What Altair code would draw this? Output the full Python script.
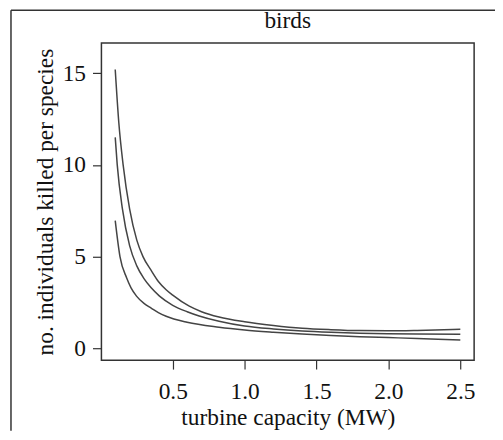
import altair as alt
import pandas as pd

# values
x_upper = [0.1, 0.125, 0.155, 0.2, 0.25, 0.293, 0.35, 0.4, 0.454, 0.5, 0.615, 0.7, 0.822, 1.0, 1.2, 1.4, 1.6, 1.8, 2.0, 2.2, 2.5]
y_upper = [15.2, 12.3, 10.0, 7.6, 5.9, 5.0, 4.25, 3.65, 3.2, 2.9, 2.3, 2.0, 1.71, 1.45, 1.25, 1.1, 1.02, 0.97, 0.96, 0.98, 1.04]

x_mid = [0.1, 0.114, 0.15, 0.2, 0.25, 0.3, 0.35, 0.408, 0.5, 0.6, 0.684, 0.822, 1.0, 1.2, 1.4, 1.6, 1.8, 2.0, 2.2, 2.5]
y_mid = [11.5, 10.0, 7.6, 5.6, 4.5, 3.8, 3.3, 2.85, 2.35, 2.0, 1.77, 1.48, 1.22, 1.06, 0.95, 0.88, 0.83, 0.8, 0.78, 0.77]

x_low = [0.1, 0.133, 0.179, 0.21, 0.248, 0.3, 0.35, 0.4, 0.454, 0.6, 0.822, 1.0, 1.2, 1.4, 1.6, 1.8, 2.0, 2.2, 2.5]
y_low = [6.96, 5.0, 3.85, 3.3, 2.85, 2.45, 2.2, 1.95, 1.75, 1.42, 1.15, 1.0, 0.88, 0.78, 0.7, 0.64, 0.59, 0.54, 0.46]

x_ticks = [0.5, 1.0, 1.5, 2.0, 2.5]
y_ticks = [0, 5, 10, 15]
title_text = "birds"

rows = []
for name, xs, ys in [("upper", x_upper, y_upper), ("middle", x_mid, y_mid), ("lower", x_low, y_low)]:
    for i, (a, b) in enumerate(zip(xs, ys)):
        rows.append({"series": name, "x": a, "y": b, "i": i})
df = pd.DataFrame(rows)

FONT = "Liberation Serif"
FS = 23.5
W, H = 375, 319
PAD = {"left": 94, "top": 34, "right": 21, "bottom": 71}

lines = alt.Chart(df).mark_line(color="#444444", strokeWidth=1.5, interpolate="monotone").encode(
    x=alt.X("x:Q",
            scale=alt.Scale(domain=[0.004, 2.596], nice=False, zero=False),
            axis=alt.Axis(values=x_ticks, format=".1f", title="turbine capacity (MW)",
                          domain=False, grid=False, tickSize=9, tickColor="#333333", tickWidth=1.2,
                          labelFont=FONT, labelFontSize=FS, labelColor="#111111", labelPadding=11,
                          titleFont=FONT, titleFontSize=FS, titleFontWeight="normal", titleColor="#111111",
                          titleY=58, titleBaseline="middle")),
    y=alt.Y("y:Q",
            scale=alt.Scale(domain=[-0.64, 16.64], nice=False, zero=False),
            axis=alt.Axis(values=y_ticks, format="d", title="no. individuals killed per species",
                          domain=False, grid=False, tickSize=9, tickColor="#333333", tickWidth=1.2,
                          labelFont=FONT, labelFontSize=FS, labelColor="#111111", labelPadding=7,
                          titleFont=FONT, titleFontSize=FS, titleFontWeight="normal", titleColor="#111111",
                          titleX=-56, titleY=H / 2, titleAngle=-90, titleBaseline="middle", titleAlign="center")),
    detail="series:N",
    order="i:Q",
)

single = alt.Data(values=[{"k": 1}])
title_mark = alt.Chart(single).mark_text(font=FONT, fontSize=FS, color="#111111", baseline="alphabetic",
                                         align="center").encode(
    x=alt.value(W / 2), y=alt.value(-15), text=alt.value(title_text))
top_rule = alt.Chart(single).mark_rule(color="#333333", strokeWidth=1.5).encode(
    x=alt.value(-91), x2=alt.value(W + PAD["right"]), y=alt.value(-33))
left_rule = alt.Chart(single).mark_rule(color="#333333", strokeWidth=1.5).encode(
    x=alt.value(-91), y=alt.value(-33), y2=alt.value(H + PAD["bottom"]))

chart = alt.layer(lines, title_mark, top_rule, left_rule).properties(
    width=W, height=H,
    autosize=alt.AutoSizeParams(type="none"),
    padding=PAD,
    background="white",
).configure_view(stroke="#333333", strokeWidth=1.5)

chart.save("out.html", embed_options={"renderer": "svg", "actions": False})
